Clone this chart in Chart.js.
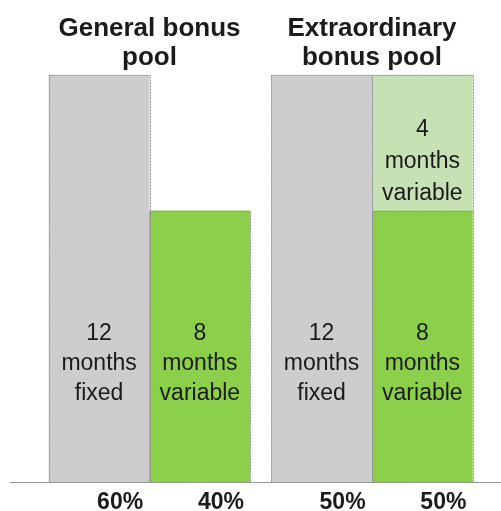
<!DOCTYPE html>
<html>
<head>
<meta charset="utf-8">
<script src="https://cdn.jsdelivr.net/npm/chart.js@4"></script>
<style>
  html, body { margin: 0; padding: 0; background: #fff; }
  #wrap { width: 501px; height: 511px; }
</style>
</head>
<body>
<div id="wrap"><canvas id="bonusChart"></canvas></div>
<script>
// Data
const groups = [['General bonus', 'pool'], ['Extraordinary', 'bonus pool']];
const fixedMonths = [12, 12];
const variableMonths = [8, 8];
const extraMonths = [0, 4];
const fixedShare = ['60%', '50%'];
const variableShare = ['40%', '50%'];

const textColor = '#1b1b1b';
const dotColor = '#959595';

// each group sits at x = 1, 2 on a linear axis so the baseline can run the full width
const toPoints = (values) => values.map((v, i) => ({ x: i + 1, y: v }));

// Plugin: titles, dotted bar outlines, labels in bars, shares under the baseline
const bonusLabels = {
    id: 'bonusLabels',
    afterDatasetsDraw(chart) {
        const ctx = chart.ctx;
        const xScale = chart.scales.x;
        const yScale = chart.scales.y;
        const area = chart.chartArea;

        ctx.save();

        // dotted outlines around each bar
        ctx.strokeStyle = dotColor;
        ctx.lineWidth = 1;
        ctx.setLineDash([2, 1]);
        chart.data.datasets.forEach((ds, di) => {
            chart.getDatasetMeta(di).data.forEach((bar, i) => {
                if (!ds.data[i].y) return;
                const p = bar.getProps(['x', 'y', 'base', 'width'], true);
                ctx.strokeRect(Math.round(p.x - p.width / 2) + 0.5, Math.round(p.y) + 0.5,
                    Math.round(p.width), Math.round(p.base - p.y));
            });
        });
        ctx.setLineDash([]);

        // text inside the bars
        ctx.fillStyle = textColor;
        ctx.font = '23px "Liberation Sans", Arial, sans-serif';
        ctx.textAlign = 'center';
        ctx.textBaseline = 'middle';
        chart.data.datasets.forEach((ds, di) => {
            chart.getDatasetMeta(di).data.forEach((bar, i) => {
                const v = ds.data[i].y;
                if (!v) return;
                const p = bar.getProps(['x', 'base'], true);
                const baseVal = yScale.getValueForPixel(p.base);
                const cy = yScale.getPixelForValue(baseVal + ds.labelAt);
                const lines = [String(v), 'months', ds.word];
                const lh = ds.lineGap;
                lines.forEach((t, k) => ctx.fillText(t, p.x, cy + (k - 1) * lh));
            });
        });

        // group titles
        ctx.font = 'bold 26px "Liberation Sans", Arial, sans-serif';
        ctx.textBaseline = 'alphabetic';
        groups.forEach((g, i) => {
            const gx = xScale.getPixelForValue(i + 1);
            g.forEach((line, k) => ctx.fillText(line, gx, area.top + 29 + k * 29));
        });

        // shares below the baseline
        ctx.font = 'bold 23px "Liberation Sans", Arial, sans-serif';
        ctx.textAlign = 'left';
        const shares = [fixedShare, variableShare];
        shares.forEach((arr, di) => {
            chart.getDatasetMeta(di).data.forEach((bar, i) => {
                ctx.fillText(arr[i], bar.x - 2, area.bottom + 27);
            });
        });

        ctx.restore();
    }
};

const ctx = document.getElementById('bonusChart').getContext('2d');
const bonusChart = new Chart(ctx, {
    type: 'bar',
    data: {
        datasets: [
            {
                label: 'fixed',
                data: toPoints(fixedMonths),
                backgroundColor: '#cfcccf',
                stack: 'fixed',
                word: 'fixed',
                labelAt: 3.5,
                lineGap: 30,
            },
            {
                label: 'variable',
                data: toPoints(variableMonths),
                backgroundColor: '#8ccf4a',
                stack: 'variable',
                word: 'variable',
                labelAt: 3.5,
                lineGap: 30,
            },
            {
                label: 'extra variable',
                data: toPoints(extraMonths),
                backgroundColor: '#c6e1b3',
                stack: 'variable',
                word: 'variable',
                labelAt: 1.45,
                lineGap: 32,
            },
        ],
    },
    options: {
        responsive: true,
        maintainAspectRatio: false,
        animation: false,
        layout: { padding: { left: 10, right: 0, top: 7, bottom: 29 } },
        datasets: {
            bar: { categoryPercentage: 0.906, barPercentage: 1, borderWidth: 0 },
        },
        plugins: {
            legend: { display: false },
            tooltip: { enabled: false },
        },
        scales: {
            x: {
                type: 'linear',
                min: 0.373,
                max: 2.58,
                offset: false,
                stacked: true,
                // only one tick per group, so bar widths follow the group spacing
                afterBuildTicks: (scale) => {
                    scale.ticks = groups.map((g, i) => ({ value: i + 1 }));
                },
                grid: { display: false, drawTicks: false },
                ticks: { display: false },
                border: { display: true, color: dotColor, width: 1, dash: [1, 2] },
            },
            y: {
                display: false,
                stacked: true,
                min: 0,
                max: 14,
            },
        },
    },
    plugins: [bonusLabels],
});
</script>
</body>
</html>
